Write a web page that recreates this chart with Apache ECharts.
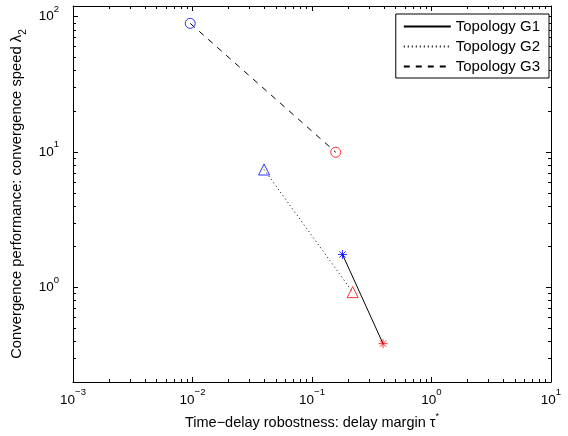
<!DOCTYPE html>
<html><head><meta charset="utf-8">
<script src="https://cdn.jsdelivr.net/npm/echarts@6/dist/echarts.min.js"></script>
<style>html,body{margin:0;padding:0;background:#fff}#c{width:568px;height:436px}</style>
</head><body><div id="c"></div>
<script>
// ---- data ----
const seriesNames = ['Topology G1', 'Topology G2', 'Topology G3'];
const g1Tau = [0.180, 0.393];
const g1Lambda = [1.75, 0.384];
const g2Tau = [0.0397, 0.219];
const g2Lambda = [7.43, 0.923];
const g3Tau = [0.00957, 0.158];
const g3Lambda = [89.3, 9.97];
const xTickExponents = [-3, -2, -1, 0, 1];
const yTickExponents = [0, 1, 2];
const xRange = [0.001, 10];
const yRange = [0.2, 120];
const xLabel = 'Time\u2212delay robostness: delay margin \u03c4';
const yLabel = 'Convergence performance: convergence speed \u03bb';

// ---- helpers ----
const L = Math.log10;
const FONT = 'Liberation Sans, Arial, Helvetica, sans-serif';
function minorTicks(lo, hi) {
  const out = [];
  for (let k = Math.floor(L(lo)); k <= Math.ceil(L(hi)); k++) {
    for (let m = 2; m <= 9; m++) {
      const v = m * Math.pow(10, k);
      if (v >= lo * 0.999 && v <= hi * 1.001) out.push(L(v));
    }
  }
  return out;
}
const xMin = L(xRange[0]), xMax = L(xRange[1]);
const yMin = L(yRange[0]), yMax = L(yRange[1]);
const supFmt = v => { const e = Math.round(v); return '{b|10}{s|' + (e < 0 ? '\u2212' + (-e) : e) + '}'; };
const labelRich = {
  b: { fontSize: 13.5, fontFamily: FONT, color: '#000', lineHeight: 25, verticalAlign: 'middle' },
  s: { fontSize: 9.5, fontFamily: FONT, color: '#000', lineHeight: 10, verticalAlign: 'top' }
};

function axis(pos, min, max, ticks, len, opts) {
  const a = {
    type: 'value', position: pos, min: min, max: max, gridIndex: 0,
    splitLine: { show: false },
    axisLine: { show: !!opts.line, onZero: false, lineStyle: { color: '#000', width: 1 } },
    axisTick: { show: true, inside: true, length: len, customValues: ticks, lineStyle: { color: '#000', width: 1 } },
    axisLabel: { show: false }
  };
  if (opts.labels) {
    a.axisLabel = { show: true, customValues: opts.labels, formatter: supFmt, rich: labelRich, margin: opts.margin };
  }
  if (opts.name) Object.assign(a, opts.name);
  return a;
}

const xMajor = xTickExponents.slice();
const yMajor = yTickExponents.slice();
const xMinor = minorTicks(xRange[0], xRange[1]);
const yMinor = minorTicks(yRange[0], yRange[1]);

const xAxes = [
  axis('bottom', xMin, xMax, xMajor, 5, { line: true, labels: xMajor, margin: 5.5, name: {
    name: '{t|' + xLabel + '}{s|*}', nameLocation: 'middle', nameGap: 30,
    nameTextStyle: { rich: {
      t: { fontSize: 14.5, fontFamily: FONT, color: '#000', lineHeight: 18, verticalAlign: 'bottom' },
      s: { fontSize: 9, fontFamily: FONT, color: '#000', lineHeight: 8, verticalAlign: 'top' } } }
  } }),
  axis('bottom', xMin, xMax, xMinor, 3, {}),
  axis('top', xMin, xMax, xMajor, 5, { line: true }),
  axis('top', xMin, xMax, xMinor, 3, {})
];
const yAxes = [
  axis('left', yMin, yMax, yMajor, 5, { line: true, labels: yMajor, margin: 14, name: {
    name: '{t|' + yLabel + '}{s|2}', nameLocation: 'middle', nameGap: 44,
    nameTextStyle: { rich: {
      t: { fontSize: 14.8, fontFamily: FONT, color: '#000', lineHeight: 18, verticalAlign: 'top' },
      s: { fontSize: 10, fontFamily: FONT, color: '#000', lineHeight: 10, verticalAlign: 'bottom' } } }
  } }),
  axis('left', yMin, yMax, yMinor, 3, {}),
  axis('right', yMin, yMax, yMajor, 5, { line: true }),
  axis('right', yMin, yMax, yMinor, 3, {})
];

function pts(xs, ys) { return xs.map((x, i) => [L(x), L(ys[i])]); }
const lineDefs = [
  { name: seriesNames[0], xs: g1Tau, ys: g1Lambda, type: 'solid' },
  { name: seriesNames[1], xs: g2Tau, ys: g2Lambda, type: [1, 3] },
  { name: seriesNames[2], xs: g3Tau, ys: g3Lambda, type: [6, 6] }
];
const STAR = 'path://M5 0L5 10M0 5L10 5M1.5 1.5L8.5 8.5M1.5 8.5L8.5 1.5';
const markerDefs = [
  { xs: g1Tau, ys: g1Lambda, symbol: STAR, size: 9 },
  { xs: g2Tau, ys: g2Lambda, symbol: 'triangle', size: 11 },
  { xs: g3Tau, ys: g3Lambda, symbol: 'circle', size: 10 }
];
const colors = ['#0000ff', '#ff0000'];

const series = [];
lineDefs.forEach(d => series.push({
  type: 'line', name: d.name, data: pts(d.xs, d.ys), xAxisIndex: 0, yAxisIndex: 0,
  symbol: 'none', color: '#000', silent: true,
  lineStyle: { color: '#000', width: 1, type: d.type }
}));
markerDefs.forEach(d => {
  pts(d.xs, d.ys).forEach((p, i) => series.push({
    type: 'scatter', data: [p], xAxisIndex: 0, yAxisIndex: 0, z: 3,
    symbol: d.symbol, symbolSize: d.size, silent: true,
    itemStyle: { color: 'rgba(0,0,0,0)', borderColor: colors[i], borderWidth: 1 }
  }));
});

const chart = echarts.init(document.getElementById('c'), null, { renderer: 'canvas' });
chart.setOption({
  animation: false,
  backgroundColor: '#fff',
  grid: { left: 73, right: 17, top: 6, bottom: 54, containLabel: false },
  xAxis: xAxes,
  yAxis: yAxes,
  legend: {
    data: seriesNames, orient: 'vertical', right: 19, top: 14,
    backgroundColor: '#fff', borderColor: '#000', borderWidth: 1, borderRadius: 0,
    padding: [5, 9, 4, 7], itemWidth: 47, itemHeight: 14, itemGap: 5,
    itemStyle: { opacity: 0 },
    textStyle: { fontSize: 15, fontFamily: FONT, color: '#000' },
    selectedMode: false
  },
  series: series
});
</script>
</body></html>
